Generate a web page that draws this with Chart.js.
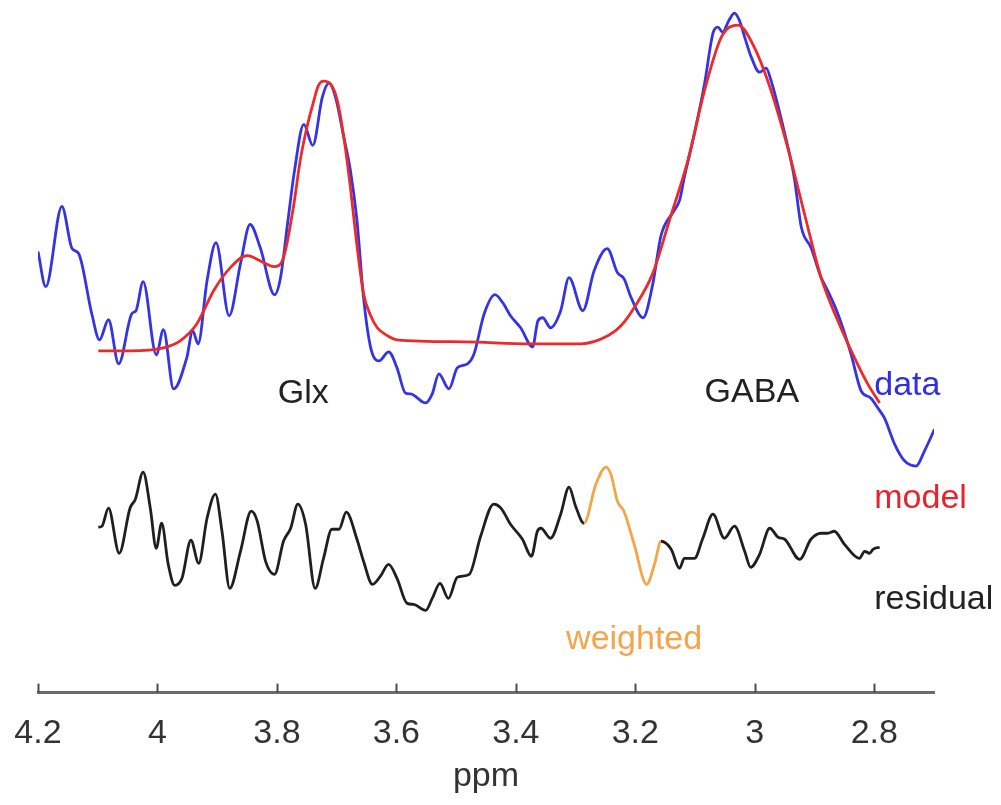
<!DOCTYPE html>
<html>
<head>
<meta charset="utf-8">
<script src="https://cdn.jsdelivr.net/npm/chart.js@4/dist/chart.umd.min.js"></script>
<style>
  html, body { margin: 0; padding: 0; background: #fff; }
  #wrap { width: 1001px; height: 805px; }
</style>
</head>
<body>
<div id="wrap"><canvas id="spec" width="1001" height="805"></canvas></div>
<script>
// ── data (ppm / arbitrary intensity) ─────────────────────────────────────────
const tickValues = [4.2, 4, 3.8, 3.6, 3.4, 3.2, 3, 2.8];

const dataPpm = [4.200, 4.187, 4.160, 4.143, 4.132, 4.110, 4.097, 4.082, 4.065, 4.043,
  4.036, 4.024, 4.002, 3.990, 3.973, 3.951, 3.941, 3.932, 3.917, 3.902,
  3.880, 3.861, 3.845, 3.828, 3.804, 3.794, 3.782, 3.771, 3.755, 3.740,
  3.724, 3.713, 3.702, 3.688, 3.677, 3.666, 3.655, 3.643, 3.629, 3.613,
  3.599, 3.585, 3.576, 3.551, 3.540, 3.529, 3.512, 3.498, 3.481, 3.470,
  3.453, 3.435, 3.422, 3.409, 3.392, 3.372, 3.363, 3.355, 3.342, 3.325,
  3.311, 3.288, 3.269, 3.247, 3.230, 3.219, 3.207, 3.187, 3.171, 3.157,
  3.135, 3.126, 3.118, 3.101, 3.084, 3.070, 3.062, 3.054, 3.043, 3.034,
  3.026, 3.017, 3.006, 2.992, 2.981, 2.973, 2.950, 2.934, 2.922, 2.906,
  2.889, 2.878, 2.861, 2.839, 2.822, 2.806, 2.794, 2.783, 2.766, 2.749,
  2.730, 2.716, 2.699];
const dataVal = [44.0, 40.5, 48.5, 44.3, 43.8, 37.8, 35.2, 37.2, 32.8, 37.8,
  38.1, 41.0, 33.7, 36.2, 30.3, 33.4, 36.1, 34.8, 41.1, 44.9,
  37.6, 42.8, 46.7, 44.4, 39.7, 41.4, 46.9, 51.9, 56.7, 54.6,
  59.4, 60.8, 59.4, 55.4, 52.1, 47.1, 39.4, 34.4, 33.1, 34.0,
  32.4, 29.9, 29.8, 28.9, 29.8, 31.8, 30.3, 32.4, 32.8, 33.8,
  37.8, 39.7, 38.9, 37.6, 36.4, 34.5, 37.1, 37.4, 36.4, 38.1,
  41.4, 38.1, 42.1, 44.3, 41.9, 41.3, 39.4, 37.4, 40.7, 45.6,
  48.1, 49.1, 51.4, 55.8, 60.8, 65.8, 66.4, 65.9, 67.1, 67.8,
  67.1, 65.4, 63.4, 61.9, 62.3, 61.1, 55.8, 51.4, 46.4, 44.4,
  41.4, 40.1, 37.8, 33.8, 30.1, 29.4, 28.4, 27.4, 24.8, 23.1,
  22.6, 24.1, 26.3];

const modelPpm = [4.099, 4.046, 3.990, 3.962, 3.934, 3.906, 3.878, 3.850, 3.822, 3.805,
  3.789, 3.772, 3.761, 3.749, 3.738, 3.731, 3.722, 3.710, 3.699, 3.688,
  3.677, 3.667, 3.655, 3.643, 3.632, 3.615, 3.599, 3.487, 3.375, 3.291,
  3.246, 3.224, 3.202, 3.171, 3.143, 3.112, 3.084, 3.056, 3.028, 3.001,
  2.973, 2.945, 2.917, 2.889, 2.861, 2.833, 2.811, 2.791];
const modelVal = [34.1, 34.1, 34.4, 35.1, 36.8, 40.1, 42.4, 43.6, 42.9, 42.5,
  43.4, 48.6, 53.1, 56.6, 59.1, 60.5, 61.0, 60.7, 59.1, 55.4,
  50.4, 45.1, 39.8, 37.6, 36.4, 35.6, 35.2, 35.0, 34.8, 34.8,
  35.6, 36.6, 38.4, 41.8, 47.1, 53.1, 60.1, 65.4, 66.6, 64.4,
  60.1, 54.4, 47.8, 41.4, 37.1, 33.4, 30.8, 28.9];

const residPpm = [4.099, 4.093, 4.082, 4.064, 4.046, 4.037, 4.024, 4.012, 4.002, 3.993,
  3.982, 3.971, 3.959, 3.944, 3.931, 3.917, 3.903, 3.892, 3.879, 3.861,
  3.843, 3.833, 3.819, 3.804, 3.789, 3.777, 3.765, 3.752, 3.736, 3.722,
  3.708, 3.696, 3.684, 3.666, 3.655, 3.640, 3.627, 3.613, 3.599, 3.582,
  3.571, 3.551, 3.540, 3.527, 3.513, 3.498, 3.478, 3.459, 3.437, 3.425,
  3.409, 3.389, 3.374, 3.364, 3.358, 3.342, 3.325, 3.311, 3.300, 3.286,
  3.266, 3.249, 3.241, 3.230, 3.219, 3.202, 3.181, 3.168, 3.157, 3.140,
  3.126, 3.118, 3.101, 3.087, 3.070, 3.051, 3.034, 3.017, 3.007, 2.992,
  2.975, 2.961, 2.950, 2.925, 2.906, 2.889, 2.878, 2.867, 2.850, 2.825,
  2.816, 2.808, 2.802, 2.791];
const residVal = [16.5, 16.6, 18.4, 13.9, 18.4, 19.3, 22.0, 18.4, 14.4, 16.9,
  12.8, 10.7, 11.4, 15.2, 12.9, 17.4, 19.8, 16.1, 10.4, 14.1,
  18.1, 17.1, 13.1, 11.8, 15.1, 16.4, 18.8, 16.8, 10.4, 13.4,
  16.3, 16.3, 18.0, 15.3, 13.1, 10.8, 11.6, 12.8, 11.4, 8.9,
  8.8, 8.2, 9.4, 10.9, 9.4, 11.5, 11.8, 15.6, 18.8, 18.4,
  16.8, 15.3, 13.6, 16.1, 16.4, 15.4, 17.8, 20.5, 18.6, 16.9,
  20.8, 22.5, 21.8, 19.1, 18.1, 14.8, 10.8, 12.8, 15.1, 14.3,
  12.4, 13.4, 13.4, 15.4, 17.8, 15.4, 16.6, 14.1, 12.5, 13.8,
  16.4, 15.5, 15.3, 13.3, 15.3, 15.9, 15.9, 16.1, 14.8, 13.4,
  14.1, 13.9, 14.3, 14.5];

// ppm window where the residual is weighted
const weightedRange = [3.157, 3.286];

const BLUE = '#3434e6', RED = '#ec2a2a', BLACK = '#1f1f1f', ORANGE = '#f5a447';
const FONT = '"Liberation Sans", Arial, sans-serif';

const notes = [
  { text: 'Glx',      ppm: 3.756, val: 29.8, color: '#222',  align: 'center' },
  { text: 'GABA',     ppm: 3.005, val: 29.9, color: '#222',  align: 'center' },
  { text: 'data',     ppm: 2.800, val: 30.6, color: '#2f2fe0', align: 'left' },
  { text: 'model',    ppm: 2.800, val: 19.4, color: '#e8232b', align: 'left' },
  { text: 'residual', ppm: 2.800, val: 9.3,  color: '#222',  align: 'left' },
  { text: 'weighted', ppm: 3.202, val: 5.3,  color: ORANGE,  align: 'center' },
];

const zip = (xs, ys) => xs.map((x, i) => ({ x, y: ys[i] }));

// tick marks point up into the plot
const tickMarks = {
  id: 'tickMarks',
  afterDraw(chart) {
    const sx = chart.scales.x, ctx = chart.ctx, y0 = chart.chartArea.bottom;
    ctx.save();
    ctx.strokeStyle = '#4a4a4a';
    ctx.lineWidth = 2;
    tickValues.forEach(v => {
      const px = Math.round(sx.getPixelForValue(v)) + 0.5;
      ctx.beginPath();
      ctx.moveTo(px, y0);
      ctx.lineTo(px, y0 - 9);
      ctx.stroke();
    });
    ctx.restore();
  },
};

const labels = {
  id: 'labels',
  afterDraw(chart) {
    const sx = chart.scales.x, sy = chart.scales.y, ctx = chart.ctx;
    ctx.save();
    ctx.font = '34px ' + FONT;
    ctx.textBaseline = 'middle';
    notes.forEach(n => {
      ctx.fillStyle = n.color;
      ctx.textAlign = n.align;
      ctx.fillText(n.text, sx.getPixelForValue(n.ppm), sy.getPixelForValue(n.val));
    });
    ctx.restore();
  },
};

new Chart(document.getElementById('spec'), {
  type: 'line',
  data: {
    datasets: [
      {
        label: 'model', data: zip(modelPpm, modelVal), order: 0,
        borderColor: RED, borderWidth: 2.8, pointRadius: 0,
        cubicInterpolationMode: 'monotone', fill: false,
      },
      {
        label: 'data', data: zip(dataPpm, dataVal), order: 1,
        borderColor: BLUE, borderWidth: 2.8, pointRadius: 0,
        cubicInterpolationMode: 'monotone', fill: false,
      },
      {
        label: 'residual', data: zip(residPpm, residVal), order: 2,
        borderColor: BLACK, borderWidth: 2.8, pointRadius: 0,
        cubicInterpolationMode: 'monotone', fill: false,
        segment: {
          borderColor: c => {
            const a = c.p0.parsed.x, b = c.p1.parsed.x;
            return (Math.min(a, b) >= weightedRange[0] - 1e-6 && Math.max(a, b) <= weightedRange[1] + 1e-6) ? ORANGE : BLACK;
          },
        },
      },
    ],
  },
  options: {
    responsive: false, animation: false,
    layout: { padding: { left: 38, right: 67, top: 0, bottom: 8 } },
    plugins: { legend: { display: false }, tooltip: { enabled: false } },
    scales: {
      x: {
        type: 'linear', reverse: true, min: 2.7, max: 4.2,
        grid: { display: false, drawTicks: false },
        border: { display: true, color: '#6b6b6b', width: 3 },
        afterBuildTicks: s => { s.ticks = tickValues.map(v => ({ value: v })); },
        ticks: {
          autoSkip: false, maxRotation: 0, padding: 3, color: '#333',
          font: { family: FONT, size: 34, lineHeight: 2.235 },
          callback: v => String(v),
        },
        title: {
          display: true, text: 'ppm', color: '#333', padding: { top: -18.4, bottom: 0 },
          font: { family: FONT, size: 34 },
        },
      },
      y: { display: false, min: 0, max: 69.1 },
    },
  },
  plugins: [tickMarks, labels],
});
</script>
</body>
</html>
